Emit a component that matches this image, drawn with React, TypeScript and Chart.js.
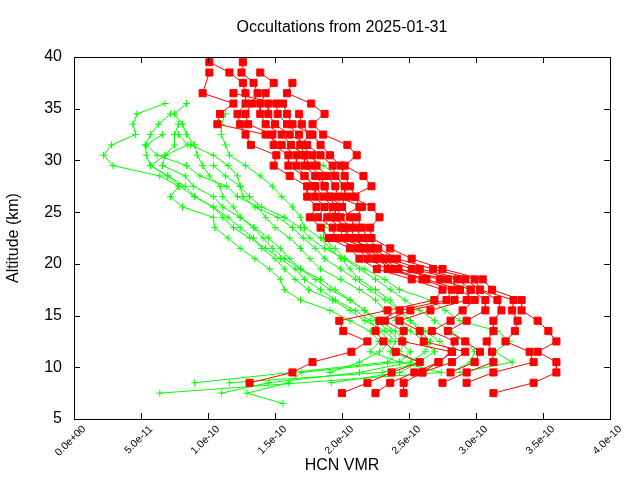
import React, { useEffect, useRef } from "react";
import { Chart, registerables } from "chart.js";

Chart.register(...registerables);

// Altitude grids (km)
const RED_ALT = [
  39.5, 38.5, 37.5, 36.5, 35.5, 34.5, 33.5, 32.5, 31.5, 30.5, 29.5, 28.5, 27.5, 26.5, 25.5, 24.5, 23.5,
  22.5, 21.5, 20.5, 19.5, 18.5, 17.5, 16.5, 15.5, 14.5, 13.5, 12.5, 11.5, 10.5, 9.5, 8.5, 7.5,
];
const GREEN_ALT = [
  35.5, 34.5, 33.5, 32.5, 31.5, 30.5, 29.5, 28.5, 27.5, 26.5, 25.5, 24.5, 23.5, 22.5, 21.5, 20.5, 19.5,
  18.5, 17.5, 16.5, 15.5, 14.5, 13.5, 12.5, 11.5, 10.5, 9.5, 8.5, 7.5, 6.5,
];

// HCN VMR values in units of 1e-10 (null = no point at that altitude)
const RED_1 = [1.01,1.16,1.26,1.28,1.28,1.22,1.24,1.28,1.32,1.51,1.49,1.61,1.74,1.74,1.81,1.76,1.84,1.90,2.06,2.13,2.26,2.52,2.75,2.69,2.34,1.98,2.01,2.19,2.07,1.78,1.63,1.31,null];
const RED_2 = [1.26,1.25,1.34,1.37,1.33,1.28,1.30,1.48,1.49,1.60,1.60,1.72,1.80,1.80,1.87,1.82,1.93,1.95,2.12,2.19,2.34,2.60,2.82,2.78,2.43,2.28,2.25,2.31,2.40,2.58,2.37,2.19,2.00];
const RED_3 = [null,1.01,null,0.96,1.19,1.09,1.07,1.43,1.55,1.66,1.66,1.72,1.80,1.86,1.93,1.89,1.99,2.00,2.17,2.25,2.37,2.63,2.88,2.84,2.51,2.32,2.46,2.45,2.82,2.72,2.54,2.36,2.25];
const RED_4 = [null,1.39,1.49,1.43,1.39,1.39,1.43,1.55,1.62,1.72,1.72,1.80,1.87,1.91,2.00,1.95,2.02,2.04,2.22,2.31,2.42,2.73,2.96,2.93,2.66,2.43,2.58,2.61,2.92,2.82,2.60,2.46,2.46];
const RED_5 = [null,null,1.63,1.59,1.77,1.87,1.78,1.86,2.04,2.11,2.02,2.16,2.22,2.07,2.22,2.28,2.21,2.22,2.36,2.52,2.75,3.05,3.12,3.34,3.34,3.46,3.54,3.60,3.46,3.60,3.60,3.43,3.13];
const RED_6 = [null,null,null,1.19,1.51,1.52,1.59,1.68,1.69,1.78,1.81,1.89,1.95,1.97,2.15,2.11,2.15,2.19,2.27,2.41,2.68,2.99,3.03,3.28,3.27,3.31,3.29,3.22,3.40,3.43,3.13,2.93,null];
const RED_7 = [null,null,null,null,1.45,1.45,1.50,1.61,1.74,1.84,1.93,1.95,2.02,2.02,2.00,2.06,2.10,2.15,2.22,2.36,2.58,2.92,3.03,3.16,3.19,3.13,3.13,3.08,3.12,3.13,2.93,2.75,null];
const RED_8 = [null,null,null,null,1.56,1.59,1.63,1.78,1.84,1.91,1.99,2.02,2.06,2.10,2.13,1.99,2.06,2.10,2.17,2.31,2.52,2.86,2.96,3.07,3.07,2.93,2.79,2.92,3.03,2.99,2.81,null,null];
const RED_9 = [null,null,null,null,null,1.68,1.70,1.76,1.69,1.72,1.76,1.84,1.87,1.91,1.95,1.95,2.02,2.06,2.13,2.25,2.42,2.79,2.88,2.99,2.90,2.81,2.67,2.84,2.82,2.72,2.60,null,null];

const GREEN_1 = [0.68,0.47,0.44,0.46,0.28,0.22,0.29,0.64,0.78,0.72,0.81,1.04,1.05,1.15,1.24,1.35,1.46,1.54,1.57,1.69,1.91,2.06,2.21,2.28,2.21,2.43,2.74,null,0.64,null];
const GREEN_2 = [0.84,0.75,0.81,0.84,0.90,0.92,0.96,1.01,1.09,1.11,1.19,1.24,1.34,1.41,1.48,1.57,1.69,1.84,1.95,2.06,2.17,2.28,2.40,2.47,2.43,2.34,null,0.90,null,null];
const GREEN_3 = [null,0.72,0.63,0.57,0.53,0.54,0.57,0.70,0.79,0.90,1.04,1.15,1.24,1.34,1.40,1.50,1.57,1.65,1.75,1.93,2.06,2.17,2.32,2.40,2.36,2.58,2.30,1.16,null,null];
const GREEN_4 = [null,1.13,1.10,1.10,1.13,1.16,1.28,1.39,1.48,1.55,1.63,1.69,1.72,1.84,1.91,1.99,2.06,2.13,2.25,2.36,2.43,2.51,2.58,2.66,2.62,2.51,2.13,1.45,1.10,null];
const GREEN_5 = [null,null,0.78,0.75,0.75,0.68,0.66,0.83,0.89,1.04,1.11,1.24,1.35,1.45,1.54,1.61,1.69,1.80,1.91,2.06,2.17,2.25,2.36,2.43,2.51,2.43,1.70,1.60,1.29,1.56];
const GREEN_6 = [null,null,null,0.66,0.54,0.62,0.84,0.94,1.14,1.22,1.37,1.43,1.50,1.61,1.69,1.76,1.84,1.99,2.13,2.25,2.32,2.40,2.51,2.62,2.69,2.58,2.43,1.92,null,null];
const GREEN_7 = [null,null,null,null,0.87,1.04,1.15,1.22,1.24,1.26,1.35,1.52,1.63,1.71,1.80,1.87,1.99,2.10,2.21,2.32,2.43,2.51,2.62,2.73,2.81,2.73,2.58,null,null,null];
const GREEN_8 = [null,null,null,null,1.61,1.74,1.86,1.97,2.00,1.99,1.95,1.91,1.87,1.86,1.95,2.02,2.13,2.25,2.36,2.47,2.58,2.69,2.81,2.92,2.99,2.96,2.81,null,null,null];
const GREEN_9 = [null,null,null,null,null,null,1.04,1.13,1.24,1.31,1.40,1.57,1.69,1.76,1.87,2.02,2.17,2.32,2.43,2.66,2.77,2.88,3.16,3.25,3.14,3.27,2.88,null,null,null];
const GREEN_10 = [null,null,null,0.78,0.85,0.68,0.57,0.70,0.83,0.90,1.04,1.11,1.19,1.31,1.43,1.54,1.65,1.72,1.84,1.95,2.10,2.21,2.28,2.36,2.28,2.13,1.91,null,null,null];

const RED_SERIES = [RED_1, RED_2, RED_3, RED_4, RED_5, RED_6, RED_7, RED_8, RED_9];
const GREEN_SERIES = [GREEN_1, GREEN_2, GREEN_3, GREEN_4, GREEN_5, GREEN_6, GREEN_7, GREEN_8, GREEN_9, GREEN_10];

const X_TICK_LABELS = ["0.0e+00", "5.0e-11", "1.0e-10", "1.5e-10", "2.0e-10", "2.5e-10", "3.0e-10", "3.5e-10", "4.0e-10"];
const TITLE = "Occultations from 2025-01-31";
const X_TITLE = "HCN VMR";
const Y_TITLE = "Altitude (km)";

const FONT = "'Liberation Sans', Arial, sans-serif";

function toPoints(alts: number[], vals: (number | null)[]) {
  const pts: { x: number; y: number }[] = [];
  alts.forEach((a, i) => {
    const v = vals[i];
    if (v !== null && v !== undefined) pts.push({ x: v, y: a });
  });
  return pts;
}

const framePlugin = {
  id: "gnuframe",
  afterDraw(chart: any) {
    const { ctx, chartArea } = chart;
    const { left, right, top, bottom } = chartArea;
    const xs = chart.scales.x;
    const ys = chart.scales.y;
    const TL = 6;
    ctx.save();
    ctx.strokeStyle = "#000";
    ctx.lineWidth = 1;
    ctx.beginPath();
    xs.ticks.forEach((t: any) => {
      const px = Math.round(xs.getPixelForValue(t.value)) + 0.5;
      ctx.moveTo(px, bottom);
      ctx.lineTo(px, bottom - TL);
      ctx.moveTo(px, top);
      ctx.lineTo(px, top + TL);
    });
    ys.ticks.forEach((t: any) => {
      const py = Math.round(ys.getPixelForValue(t.value)) + 0.5;
      ctx.moveTo(left, py);
      ctx.lineTo(left + TL, py);
      ctx.moveTo(right, py);
      ctx.lineTo(right - TL, py);
    });
    ctx.stroke();
    ctx.strokeRect(Math.round(left) + 0.5, Math.round(top) + 0.5, Math.round(right - left), Math.round(bottom - top));
    ctx.restore();
  },
};

export default function App() {
  const ref = useRef<HTMLCanvasElement | null>(null);

  useEffect(() => {
    if (!ref.current) return;
    const red = RED_SERIES.map((vals, i) => ({
      label: "red" + i,
      data: toPoints(RED_ALT, vals),
      showLine: true,
      borderColor: "#ff0000",
      backgroundColor: "#ff0000",
      borderWidth: 1,
      pointStyle: "rect" as const,
      pointRadius: 5,
      pointBorderWidth: 1,
    }));
    const green = GREEN_SERIES.map((vals, i) => ({
      label: "green" + i,
      data: toPoints(GREEN_ALT, vals),
      showLine: true,
      borderColor: "#00ff00",
      backgroundColor: "#00ff00",
      borderWidth: 1,
      pointStyle: "cross" as const,
      pointRadius: 3.5,
      pointBorderWidth: 1,
    }));

    const chart = new Chart(ref.current, {
      type: "scatter",
      data: { datasets: [...red, ...green] as any },
      options: {
        animation: false,
        responsive: false,
        devicePixelRatio: 1,
        events: [],
        layout: { padding: { left: 0, right: 30, top: 0, bottom: 0 } },
        plugins: {
          legend: { display: false },
          tooltip: { enabled: false },
          title: {
            display: true,
            fullSize: false,
            text: TITLE,
            color: "#000",
            font: { family: FONT, size: 16, weight: "normal" },
            padding: { top: 18, bottom: 19.8 },
          },
        },
        scales: {
          x: {
            type: "linear",
            min: 0,
            max: 4,
            afterFit: (s: any) => {
              s.height = 61;
            },
            ticks: {
              stepSize: 0.5,
              minRotation: 45,
              maxRotation: 45,
              color: "#000",
              font: { family: FONT, size: 10.5 },
              padding: 4,
              labelOffset: 10,
              callback: (_v: any, i: number) => X_TICK_LABELS[i],
            },
            grid: { display: true, drawOnChartArea: false, drawTicks: false },
            border: { display: true, color: "#000" },
            title: {
              display: true,
              text: X_TITLE,
              color: "#000",
              font: { family: FONT, size: 16 },
              padding: { top: 0, bottom: 5 },
            },
          },
          y: {
            type: "linear",
            min: 5,
            max: 40,
            afterFit: (s: any) => {
              s.width = 74;
            },
            ticks: {
              stepSize: 5,
              color: "#000",
              font: { family: FONT, size: 16 },
              padding: 12,
            },
            grid: { display: true, drawOnChartArea: false, drawTicks: false },
            border: { display: true, color: "#000" },
            title: {
              display: true,
              text: Y_TITLE,
              color: "#000",
              font: { family: FONT, size: 16 },
              padding: { top: 4, bottom: 0 },
            },
          },
        },
      },
      plugins: [framePlugin],
    });
    return () => chart.destroy();
  }, []);

  return (
    <div style={{ position: "fixed", left: 0, top: 0, width: 640, height: 480, background: "#fff" }}>
      <canvas ref={ref} width={640} height={480} />
    </div>
  );
}
